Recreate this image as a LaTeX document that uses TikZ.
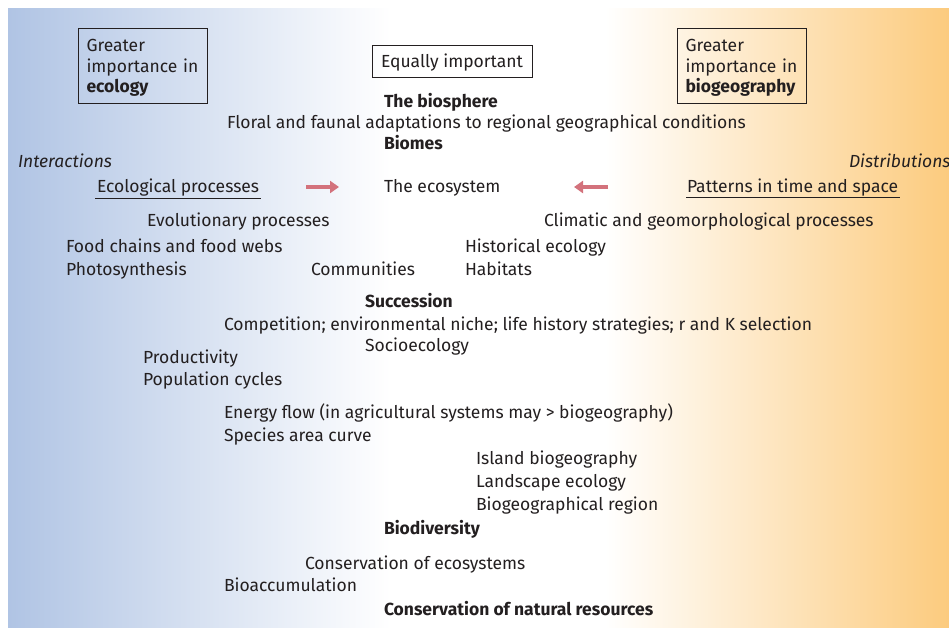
\documentclass[tikz,border=0pt]{standalone}
\usepackage{fontspec}
\setmainfont{Fira Sans}
\usetikzlibrary{arrows.meta}
\definecolor{txt}{HTML}{231F20}
\definecolor{bl}{HTML}{B0C4E4}
\definecolor{org}{HTML}{FCCB7E}
\definecolor{arrcol}{HTML}{D3727C}
\begin{document}
\begin{tikzpicture}[x=1pt,y=-1pt,
  every node/.style={inner sep=0pt, outer sep=0pt, text=txt, font=\fontsize{17.5}{20.5}\selectfont},
  lbl/.style={anchor=base west},
  bld/.style={anchor=base west, font=\fontsize{17.5}{20.5}\selectfont\bfseries},
  itl/.style={anchor=base west, font=\fontsize{17.5}{20.5}\selectfont\itshape},
  sidebox/.style={draw=txt, line width=1pt, anchor=north west, align=left, text width=112pt, inner xsep=8.5pt, minimum height=75pt},
  ulin/.style={draw=txt, line width=1pt},
  pinkarrow/.style={draw=arrcol, line width=3.6pt, -{Triangle[length=9pt,width=12pt]}}
]
\useasboundingbox (0,0) rectangle (949,628);
\fill[left color=bl, right color=white] (8,9) rectangle (391,627);
\fill[white] (390,9) rectangle (606,627);
\fill[left color=white, right color=org] (605,9) rectangle (949,627);

% boxes
\node[sidebox] (bL) at (78,29) {\rule{0pt}{15.5pt}Greater\\importance in\\\textbf{ecology}};
\node[sidebox] (bR) at (677,29) {\rule{0pt}{15.5pt}Greater\\importance in\\\textbf{biogeography}};
\node[draw=txt, line width=1pt, minimum width=160pt, minimum height=32pt, text height=12pt, text depth=0pt] (bM) at (452,62) {Equally important};

% texts
\node[bld] (bio) at (384,108) {The biosphere};
\node[lbl] (flo) at (227,129) {Floral and faunal adaptations to regional geographical conditions};
\node[bld] (biom) at (384,150) {Biomes};
\node[itl] (inter) at (18,168) {Interactions};
\node[itl] (distr) at (849,168) {Distributions};
\node[lbl] (eco) at (97,193) {Ecological processes};
\node[lbl] (ecosys) at (384,193) {The ecosystem};
\node[lbl] (pat) at (687,193) {Patterns in time and space};
\node[lbl] (evo) at (147,226) {Evolutionary processes};
\node[lbl] (clim) at (544,226) {Climatic and geomorphological processes};
\node[lbl] (food) at (66,252) {Food chains and food webs};
\node[lbl] (hist) at (465,252) {Historical ecology};
\node[lbl] (photo) at (66,275) {Photosynthesis};
\node[lbl] (comm) at (311,275) {Communities};
\node[lbl] (hab) at (465,275) {Habitats};
\node[bld] (succ) at (365,307) {Succession};
\node[lbl] (comp) at (224,330) {Competition; environmental niche; life history strategies; r and K selection};
\node[lbl] (socio) at (365,351) {Socioecology};
\node[lbl] (prod) at (143,363) {Productivity};
\node[lbl] (pop) at (143,385) {Population cycles};
\node[lbl] (energy) at (224,418) {Energy flow (in agricultural systems may > biogeography)};
\node[lbl] (spec) at (224,441) {Species area curve};
\node[lbl] (isl) at (476,464) {Island biogeography};
\node[lbl] (land) at (476,487) {Landscape ecology};
\node[lbl] (bgr) at (476,510) {Biogeographical region};
\node[bld] (bdiv) at (384,534) {Biodiversity};
\node[lbl] (cons) at (305,569) {Conservation of ecosystems};
\node[lbl] (bacc) at (224,591) {Bioaccumulation};
\node[bld] (cnr) at (384,615) {Conservation of natural resources};

% underlines
\draw[ulin] ([xshift=-2pt,yshift=-6pt]eco.base west) -- ([xshift=2pt,yshift=-6pt]eco.base east);
\draw[ulin] ([xshift=-1pt,yshift=-5pt]pat.base west) -- ([xshift=2pt,yshift=-5pt]pat.base east);

% arrows
\coordinate (a1s) at (306,187);
\coordinate (a1e) at (339,187);
\coordinate (a2s) at (608,187);
\coordinate (a2e) at (574,187);
\draw[pinkarrow] (a1s) -- (a1e);
\draw[pinkarrow] (a2s) -- (a2e);
\end{tikzpicture}
\end{document}
